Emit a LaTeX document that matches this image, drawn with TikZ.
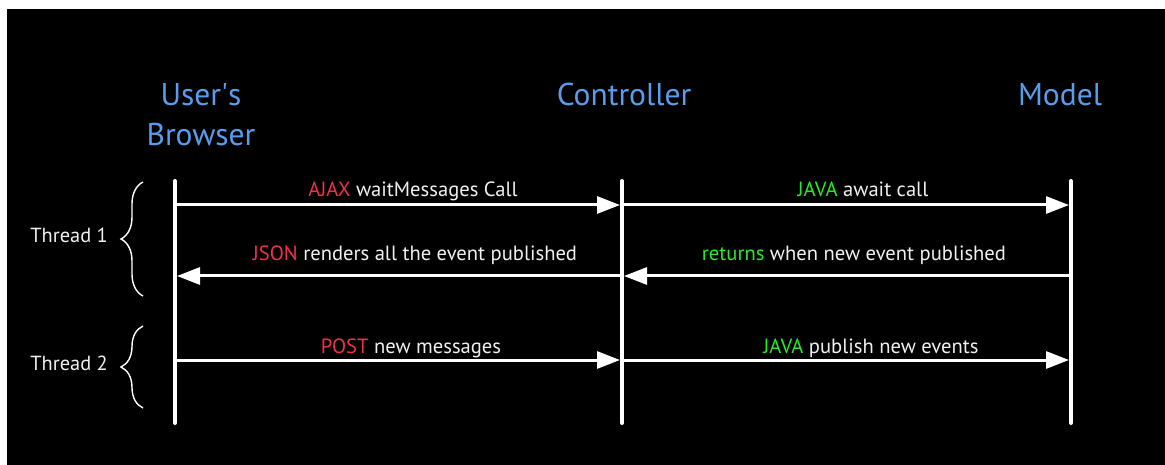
\documentclass[tikz,border=0pt]{standalone}
\usepackage{fontspec}
\setmainfont{PT Sans}
\usetikzlibrary{arrows.meta,decorations.pathreplacing}
\definecolor{hdrblue}{RGB}{90,157,236}
\definecolor{kwred}{RGB}{240,50,70}
\definecolor{kwgreen}{RGB}{40,235,40}
\definecolor{txtwhite}{RGB}{240,240,240}
\tikzset{
  hdr/.style={text=hdrblue, font=\fontsize{31.5}{36}\selectfont, anchor=base, inner sep=0pt},
  msg/.style={text=txtwhite, font=\fontsize{20.6}{24}\selectfont, anchor=base, inner sep=0pt},
  thr/.style={text=txtwhite, font=\fontsize{20.4}{24}\selectfont, anchor=base east, inner sep=0pt},
  lifeline/.style={draw=white, line width=4pt, line cap=round},
  call/.style={draw=white, line width=3pt, -{Triangle[length=23pt,width=17pt]}, shorten >=2pt, shorten <=2pt},
  bracestyle/.style={draw=white, line width=1.4pt, decorate, decoration={brace, amplitude=22pt, aspect=0.5}},
}
\begin{document}
\begin{tikzpicture}[x=1pt,y=-1pt]
\useasboundingbox (0,0) rectangle (1165,465);
\fill[white] (0,0) rectangle (1165,465);
\fill[black] (7,9) rectangle (1165,465);

% headers
\node[hdr] (usr) at (201,106) {User\textquotesingle s};
\node[hdr] (brw) at (201,146) {Browser};
\node[hdr] (ctl) at (624,106) {Controller};
\node[hdr] (mdl) at (1060,106) {Model};

% lifeline ends
\coordinate (bTop) at (175,181);
\coordinate (bBot) at (175,423);
\coordinate (cTop) at (622,181);
\coordinate (cBot) at (622,423);
\coordinate (mTop) at (1071,181);
\coordinate (mBot) at (1071,423);
\draw[lifeline] (bTop) -- (bBot);
\draw[lifeline] (cTop) -- (cBot);
\draw[lifeline] (mTop) -- (mBot);

% message rows
\coordinate (b1) at (175,205);
\coordinate (c1) at (622,205);
\coordinate (m1) at (1071,205);
\coordinate (b2) at (175,276);
\coordinate (c2) at (622,276);
\coordinate (m2) at (1071,276);
\coordinate (b3) at (175,360);
\coordinate (c3) at (622,360);
\coordinate (m3) at (1071,360);

\draw[call] (b1) -- (c1);
\draw[call] (c1) -- (m1);
\draw[call] (c2) -- (b2);
\draw[call] (m2) -- (c2);
\draw[call] (b3) -- (c3);
\draw[call] (c3) -- (m3);

\node[msg] (l1) at (413,197) {{\color{kwred}AJAX} waitMessages Call};
\node[msg] (l2) at (863,197) {{\color{kwgreen}JAVA} await call};
\node[msg] (l3) at (415,261) {{\color{kwred}JSON} renders all the event published};
\node[msg] (l4) at (854,261) {{\color{kwgreen}returns} when new event published};
\node[msg] (l5) at (411,353) {{\color{kwred}POST} new messages};
\node[msg] (l6) at (871,353) {{\color{kwgreen}JAVA} publish new events};

% braces
\coordinate (t1b) at (143,296);
\coordinate (t1t) at (143,182);
\coordinate (t2b) at (143,408);
\coordinate (t2t) at (143,326);
\draw[bracestyle] (t1b) -- (t1t);
\draw[bracestyle] (t2b) -- (t2t);
\node[thr] (th1) at (108,243) {Thread 1};
\node[thr] (th2) at (108,370) {Thread 2};
\end{tikzpicture}
\end{document}
